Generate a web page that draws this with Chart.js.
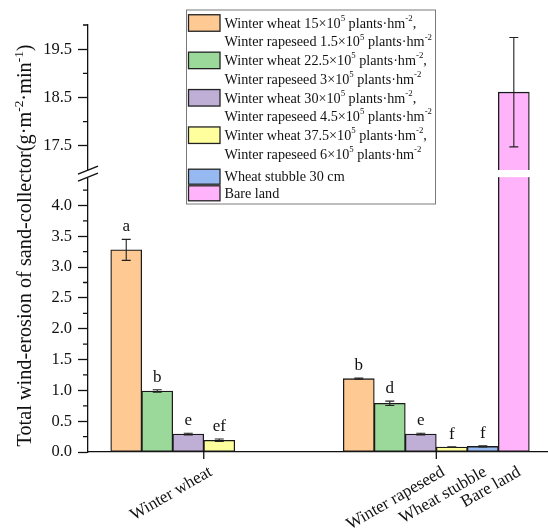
<!DOCTYPE html>
<html>
<head>
<meta charset="utf-8">
<script src="https://cdn.jsdelivr.net/npm/chart.js@4"></script>
<style>
  html, body { margin: 0; padding: 0; background: #fff; }
  #wrap { width: 548px; height: 528px; }
</style>
</head>
<body>
<div id="wrap"><canvas id="erosionChart"></canvas></div>
<script>
// ---- data ----
const categories = ['Winter wheat', 'Winter rapeseed', 'Wheat stubble', 'Bare land'];

// legend text, ^{..} marks a superscript
const seriesNames = [
    ['Winter wheat 15\u00d710^{5} plants\u00b7hm^{-2},', 'Winter rapeseed 1.5\u00d710^{5} plants\u00b7hm^{-2}'],
    ['Winter wheat 22.5\u00d710^{5} plants\u00b7hm^{-2},', 'Winter rapeseed 3\u00d710^{5} plants\u00b7hm^{-2}'],
    ['Winter wheat 30\u00d710^{5} plants\u00b7hm^{-2},', 'Winter rapeseed 4.5\u00d710^{5} plants\u00b7hm^{-2}'],
    ['Winter wheat 37.5\u00d710^{5} plants\u00b7hm^{-2},', 'Winter rapeseed 6\u00d710^{5} plants\u00b7hm^{-2}'],
    ['Wheat stubble 30 cm'],
    ['Bare land']
];

const wheatValues = [3.28, 0.99, 0.29, 0.19];
const wheatErrors = [0.17, 0.02, 0.015, 0.02];
const wheatLetters = ['a', 'b', 'e', 'ef'];

const rapeseedValues = [1.19, 0.79, 0.29, 0.08];
const rapeseedErrors = [0.01, 0.035, 0.015, 0.005];
const rapeseedLetters = ['b', 'd', 'e', 'f'];

const stubbleValues = [0.09];
const stubbleErrors = [0.01];
const stubbleLetters = ['f'];

const bareValues = [18.61];
const bareErrors = [1.13];
const bareLetters = [''];

const lowTickLabels = ['0.0', '0.5', '1.0', '1.5', '2.0', '2.5', '3.0', '3.5', '4.0'];
const highTickLabels = ['17.5', '18.5', '19.5'];

const colors = ['#FFC994', '#9BD99A', '#BFAED6', '#FFFF9E', '#97B9F2', '#FFB3FA'];

// ---- broken y axis ----
const breakLow = 4.46;
const breakHigh = 17.0;
const breakGap = 0.115;
const upperRatio = 0.7845;
const topValue = 20.0;

function toAxis(v) {
    if (v <= breakLow) return v;
    return breakLow + breakGap + (v - breakHigh) * upperRatio;
}

// bar slots along the x axis
const groupStart = 7.5;
function slotOf(series, cat) {
    if (cat === 0) return series;
    if (cat === 1) return groupStart + series;
    return groupStart + 2 + cat;  // stubble 11.5, bare 12.5
}

const fontFamily = '"Liberation Serif", "Times New Roman", serif';

function buildSeries(i) {
    const pts = [];
    if (i < 4) {
        pts.push({ x: slotOf(i, 0), y: toAxis(wheatValues[i]), v: wheatValues[i], e: wheatErrors[i], t: wheatLetters[i] });
        pts.push({ x: slotOf(i, 1), y: toAxis(rapeseedValues[i]), v: rapeseedValues[i], e: rapeseedErrors[i], t: rapeseedLetters[i] });
    } else if (i === 4) {
        pts.push({ x: slotOf(0, 2), y: toAxis(stubbleValues[0]), v: stubbleValues[0], e: stubbleErrors[0], t: stubbleLetters[0] });
    } else {
        pts.push({ x: slotOf(0, 3), y: toAxis(bareValues[0]), v: bareValues[0], e: bareErrors[0], t: bareLetters[0] });
    }
    return pts;
}

const datasets = seriesNames.map((name, i) => ({
    label: name.join(' '),
    data: buildSeries(i),
    backgroundColor: colors[i],
    borderColor: '#1a1a1a',
    borderWidth: 1.3,
    borderSkipped: false,
    grouped: false,
    barPercentage: 1,
    categoryPercentage: 1
}));

// tick marks sit between the 3rd and 4th bar of each group, labels a bit to the right
const xTickSlots = [slotOf(2, 0) + 0.5, slotOf(2, 1) + 0.5];
const xLabelSlots = [xTickSlots[0] + 0.23, xTickSlots[1] + 0.23, slotOf(0, 2) + 0.08, slotOf(0, 3) + 0.18];

function drawRich(ctx, text, x, y, size, supRatio) {
    const parts = text.split(/\^\{([^}]*)\}/);
    let cx = x;
    parts.forEach((p, k) => {
        if (!p) return;
        if (k % 2 === 1) {
            ctx.font = (size * supRatio) + 'px ' + fontFamily;
            ctx.fillText(p, cx, y - size * 0.38);
        } else {
            ctx.font = size + 'px ' + fontFamily;
            ctx.fillText(p, cx, y);
        }
        cx += ctx.measureText(p).width;
    });
    return cx - x;
}

function richWidth(ctx, text, size, supRatio) {
    const parts = text.split(/\^\{([^}]*)\}/);
    let w = 0;
    parts.forEach((p, k) => {
        if (!p) return;
        ctx.font = (k % 2 === 1 ? size * supRatio : size) + 'px ' + fontFamily;
        w += ctx.measureText(p).width;
    });
    return w;
}

const extrasPlugin = {
    id: 'extras',
    afterDatasetsDraw(chart) {
        const ctx = chart.ctx;
        const ys = chart.scales.y;
        const xs = chart.scales.x;
        const area = chart.chartArea;
        const yLow = ys.getPixelForValue(breakLow);
        const yHigh = ys.getPixelForValue(toAxis(breakHigh));
        ctx.save();

        // white gap through bars crossing the break
        chart.data.datasets.forEach((ds, di) => {
            const meta = chart.getDatasetMeta(di);
            meta.data.forEach((el, j) => {
                if (ds.data[j].v > breakHigh) {
                    ctx.fillStyle = '#fff';
                    ctx.fillRect(el.x - el.width / 2 - 2, yHigh, el.width + 4, yLow - yHigh);
                }
            });
        });

        // error bars and letters
        ctx.strokeStyle = '#222';
        ctx.lineWidth = 1.1;
        chart.data.datasets.forEach((ds, di) => {
            const meta = chart.getDatasetMeta(di);
            meta.data.forEach((el, j) => {
                const d = ds.data[j];
                const top = ys.getPixelForValue(toAxis(d.v + d.e));
                const bot = ys.getPixelForValue(toAxis(d.v - d.e));
                const cap = 4.5;
                ctx.beginPath();
                ctx.moveTo(el.x, top); ctx.lineTo(el.x, bot);
                ctx.moveTo(el.x - cap, top); ctx.lineTo(el.x + cap, top);
                ctx.moveTo(el.x - cap, bot); ctx.lineTo(el.x + cap, bot);
                ctx.stroke();
                if (d.t) {
                    ctx.fillStyle = '#111';
                    ctx.font = '17px ' + fontFamily;
                    ctx.textAlign = 'center';
                    ctx.textBaseline = 'alphabetic';
                    ctx.fillText(d.t, el.x, Math.min(top, el.y) - 8);
                }
            });
        });

        // minor ticks on y
        const axisX = area.left;
        ctx.strokeStyle = '#111';
        ctx.lineWidth = 1.3;
        ctx.beginPath();
        for (let v = 0.25; v <= breakLow; v += 0.5) {
            const p = ys.getPixelForValue(v);
            ctx.moveTo(axisX - 5, p); ctx.lineTo(axisX, p);
        }
        for (let v = 18.0; v <= topValue; v += 1.0) {
            const p = ys.getPixelForValue(toAxis(v));
            ctx.moveTo(axisX - 5, p); ctx.lineTo(axisX, p);
        }
        // x ticks under the groups
        xTickSlots.forEach(s => {
            const p = xs.getPixelForValue(s);
            ctx.moveTo(p, area.bottom); ctx.lineTo(p, area.bottom + 7);
        });
        ctx.stroke();

        // break marks on the y axis
        ctx.fillStyle = '#fff';
        ctx.fillRect(axisX - 3, yHigh + 0.5, 6, yLow - yHigh);
        ctx.strokeStyle = '#111';
        ctx.lineWidth = 1.4;
        ctx.beginPath();
        ctx.moveTo(axisX - 10, yHigh + 4); ctx.lineTo(axisX + 10, yHigh - 4);
        ctx.moveTo(axisX - 10, yLow + 4); ctx.lineTo(axisX + 10, yLow - 4);
        ctx.stroke();

        ctx.restore();
    },
    afterDraw(chart) {
        const ctx = chart.ctx;
        ctx.save();

        // y title
        const title = 'Total wind-erosion of sand-collector(g\u00b7m^{-2}\u00b7min^{-1})';
        const tsize = 20.3;
        ctx.translate(31, 245.5);
        ctx.rotate(-Math.PI / 2);
        ctx.fillStyle = '#111';
        ctx.textAlign = 'left';
        ctx.textBaseline = 'alphabetic';
        drawRich(ctx, title, -richWidth(ctx, title, tsize, 0.66) / 2, 0, tsize, 0.66);
        ctx.setTransform(1, 0, 0, 1, 0, 0);

        // legend inside the plot
        const lx = 186.5, ly = 10, lw = 249, lh = 194;
        ctx.fillStyle = '#fff';
        ctx.fillRect(lx, ly, lw, lh);
        ctx.strokeStyle = '#7a7a7a';
        ctx.lineWidth = 1;
        ctx.strokeRect(lx, ly, lw, lh);
        const rows = [23, 60.4, 97.8, 135.2, 176.7, 193.3];
        const lsize = 14.2;
        ctx.textBaseline = 'middle';
        seriesNames.forEach((lines, i) => {
            const cy = rows[i];
            const bh = lines.length > 1 ? 16.5 : 15;
            ctx.fillStyle = colors[i];
            ctx.fillRect(lx + 2, cy - bh / 2, 31.5, bh);
            ctx.strokeStyle = '#222';
            ctx.lineWidth = 1.3;
            ctx.strokeRect(lx + 2, cy - bh / 2, 31.5, bh);
            ctx.fillStyle = '#111';
            lines.forEach((t, k) => {
                drawRich(ctx, t, lx + 38, cy + 1 + k * 18.7, lsize, 0.62);
            });
        });
        ctx.restore();
    }
};

const ctx = document.getElementById('erosionChart').getContext('2d');

new Chart(ctx, {
    type: 'bar',
    data: { datasets: datasets },
    options: {
        responsive: true,
        maintainAspectRatio: false,
        animation: false,
        layout: { padding: { top: 25, right: 1, left: 0, bottom: 0 } },
        plugins: {
            legend: { display: false },
            tooltip: { enabled: false }
        },
        scales: {
            x: {
                type: 'linear',
                min: -1.233,
                max: 13.57,
                offset: false,
                grid: { display: false },
                border: { display: true, color: '#111', width: 1.3 },
                afterBuildTicks: scale => {
                    scale.ticks = xLabelSlots.map(v => ({ value: v }));
                },
                afterFit: scale => { scale.height = 76; },
                ticks: {
                    autoSkip: false,
                    minRotation: 30,
                    maxRotation: 30,
                    padding: 2,
                    color: '#111',
                    font: { family: fontFamily, size: 17 },
                    callback: (value, index) => categories[index]
                }
            },
            y: {
                type: 'linear',
                min: 0,
                max: toAxis(topValue),
                grid: {
                    display: true,
                    drawOnChartArea: false,
                    drawTicks: true,
                    tickLength: 10,
                    tickWidth: 1.3,
                    tickColor: '#111'
                },
                border: { display: true, color: '#111', width: 1.3 },
                afterBuildTicks: scale => {
                    const vals = lowTickLabels.map(t => parseFloat(t))
                        .concat(highTickLabels.map(t => toAxis(parseFloat(t))));
                    scale.ticks = vals.map(v => ({ value: v }));
                },
                afterFit: scale => { scale.width = 88; },
                ticks: {
                    padding: 6,
                    color: '#111',
                    font: { family: fontFamily, size: 16.5 },
                    callback: (value, index) => lowTickLabels.concat(highTickLabels)[index]
                }
            }
        }
    },
    plugins: [extrasPlugin]
});
</script>
</body>
</html>
